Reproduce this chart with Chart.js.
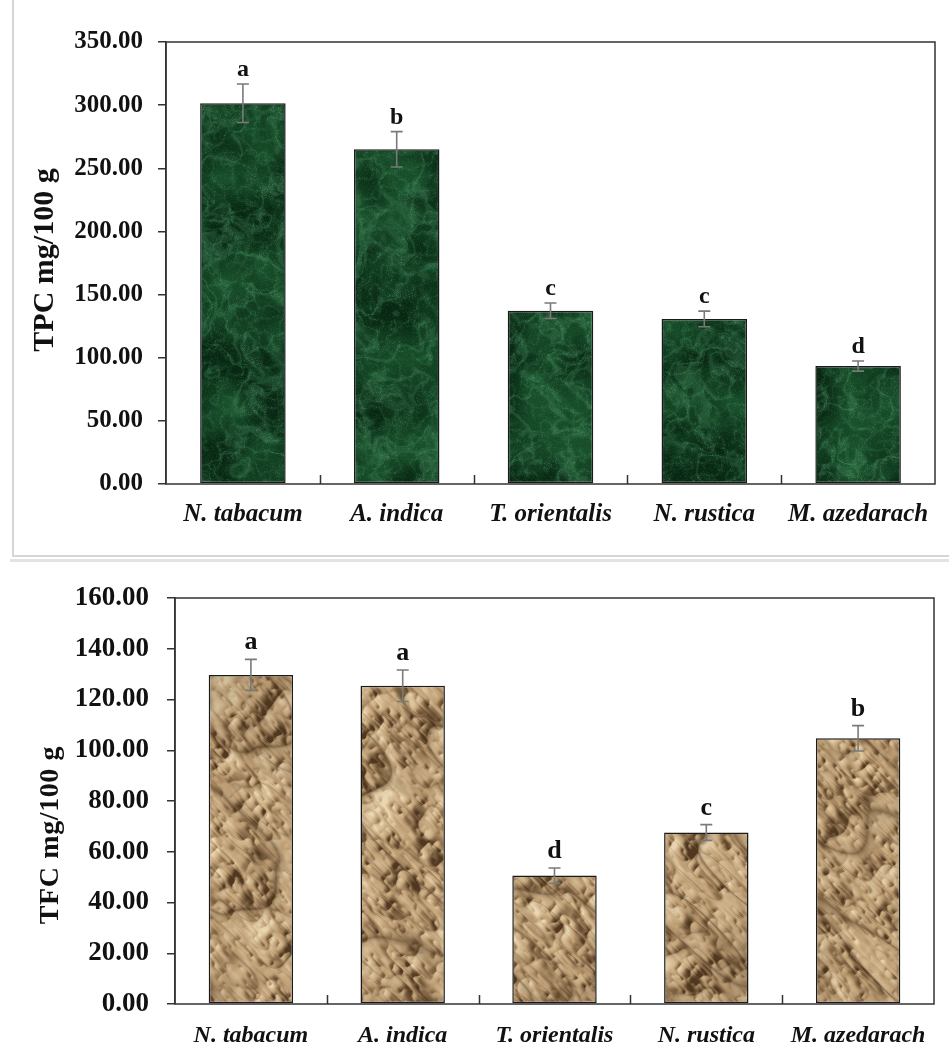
<!DOCTYPE html>
<html>
<head>
<meta charset="utf-8">
<script src="https://cdn.jsdelivr.net/npm/chart.js@4.4.1/dist/chart.umd.min.js"></script>
<style>
  html, body { margin: 0; padding: 0; background: #fff; }
  #wrap { position: relative; width: 949px; height: 1062px; overflow: hidden; background: #fff; }
  .rule { position: absolute; }
  canvas { position: absolute; left: 0; }
  #tpc { top: 0; }
  #tfc { top: 560px; }
</style>
</head>
<body>
<div id="wrap">
  <div class="rule" style="left:12px; top:-4px; width:960px; height:557px; border:2px solid #d6d6d6;"></div>
  <div class="rule" style="left:10px; top:559px; width:960px; height:3px; background:#e3e3e3;"></div>
  <canvas id="tpc" width="949" height="560"></canvas>
  <canvas id="tfc" width="949" height="502"></canvas>
</div>
<script>
// ---- data ----
const categories = ['N. tabacum', 'A. indica', 'T. orientalis', 'N. rustica', 'M. azedarach'];

const tpcMeans   = [301.5, 265.0, 137.2, 130.7, 93.4];
const tpcErrors  = [15.2, 14.0, 6.1, 6.2, 4.0];
const tpcLetters = ['a', 'b', 'c', 'c', 'd'];
const tpcTicks   = [0, 50, 100, 150, 200, 250, 300, 350];

const tfcMeans   = [129.7, 125.4, 50.6, 67.6, 104.7];
const tfcErrors  = [6.1, 6.2, 3.0, 3.1, 5.0];
const tfcLetters = ['a', 'a', 'd', 'c', 'b'];
const tfcTicks   = [0, 20, 40, 60, 80, 100, 120, 140, 160];

const SERIF = "'Liberation Serif', 'Times New Roman', serif";

// ---- procedural bar textures ----
function seeded(seed) {
  return function () {
    seed |= 0; seed = seed + 0x6D2B79F5 | 0;
    let t = Math.imul(seed ^ seed >>> 15, 1 | seed);
    t = t + Math.imul(t ^ t >>> 7, 61 | t) ^ t;
    return ((t ^ t >>> 14) >>> 0) / 4294967296;
  };
}
function lattice(rand, period) {
  const g = new Float32Array(period * period);
  for (let i = 0; i < g.length; i++) g[i] = rand();
  return function (x, y) {
    const xi = Math.floor(x), yi = Math.floor(y);
    const xf = x - xi, yf = y - yi;
    const u = xf * xf * (3 - 2 * xf), v = yf * yf * (3 - 2 * yf);
    const x0 = ((xi % period) + period) % period, x1 = (x0 + 1) % period;
    const y0 = ((yi % period) + period) % period, y1 = (y0 + 1) % period;
    const a = g[y0 * period + x0], b = g[y0 * period + x1];
    const c = g[y1 * period + x0], d = g[y1 * period + x1];
    return a + (b - a) * u + (c - a) * v + (a - b - c + d) * u * v;
  };
}
function fbm(noise, x, y, oct) {
  let s = 0, amp = 0.5, f = 1, norm = 0;
  for (let o = 0; o < oct; o++) {
    s += amp * noise(x * f + o * 17.3, y * f + o * 9.1);
    norm += amp; amp *= 0.5; f *= 2;
  }
  return s / norm;
}
const mix = (a, b, t) => [a[0] + (b[0] - a[0]) * t, a[1] + (b[1] - a[1]) * t, a[2] + (b[2] - a[2]) * t];
const clamp01 = v => v < 0 ? 0 : v > 1 ? 1 : v;

// dark green marble with a soft, light web of veins
function marbleTexture(w, h) {
  const c = document.createElement('canvas'); c.width = w; c.height = h;
  const g = c.getContext('2d');
  const img = g.createImageData(w, h), d = img.data;
  const r = seeded(11);
  const n1 = lattice(r, 97), n2 = lattice(r, 97), n3 = lattice(r, 97), n4 = lattice(r, 97);
  const dark = [8, 40, 19], mid = [24, 78, 42], light = [92, 170, 120];
  for (let y = 0; y < h; y++) {
    for (let x = 0; x < w; x++) {
      const f = fbm(n1, x / 45, y / 45, 4);
      const warp = fbm(n2, x / 34, y / 34, 3);
      const v1 = fbm(n3, x / 30 + warp * 2.2, y / 30 + warp * 2.2, 4);
      const vein = Math.exp(-Math.pow((v1 - 0.5) * 18, 2));
      const v2 = fbm(n4, x / 11 + f * 2, y / 11 + warp, 2);
      const fine = Math.exp(-Math.pow((v2 - 0.5) * 11, 2));
      const grain = r();
      let col = mix(dark, mid, clamp01((f - 0.3) * 2.2));
      const lv = clamp01(vein * 0.32 + fine * 0.22 * (0.4 + grain) + (grain > 0.85 ? 0.16 : 0));
      col = mix(col, light, lv * 0.7);
      const i = (y * w + x) * 4;
      d[i] = col[0]; d[i + 1] = col[1]; d[i + 2] = col[2]; d[i + 3] = 255;
    }
  }
  g.putImageData(img, 0, 0);
  return c;
}

// crumpled kraft paper: faceted height field with sharp diagonal creases, lit from the upper left
function paperTexture(w, h) {
  const c = document.createElement('canvas'); c.width = w; c.height = h;
  const g = c.getContext('2d');
  const img = g.createImageData(w, h), d = img.data;
  const r = seeded(23);
  const n1 = lattice(r, 101), n2 = lattice(r, 101), n3 = lattice(r, 101), n4 = lattice(r, 101);
  const H = new Float32Array(w * h);
  const C = new Float32Array(w * h);
  const ca = Math.cos(-0.75), sa = Math.sin(-0.75);
  for (let y = 0; y < h; y++) {
    for (let x = 0; x < w; x++) {
      const u = x * ca - y * sa, v = x * sa + y * ca;
      let s = 0, crease = 0, amp = 1, f = 1;
      for (let o = 0; o < 4; o++) {
        const nv = (o % 2 ? n2 : n1)(u * f / 95 + o * 13.1, v * f / 34 + o * 7.7);
        const rd = 1 - Math.abs(2 * nv - 1);
        s += amp * rd;
        crease = Math.max(crease, amp * Math.pow(rd, 14));
        amp *= 0.55; f *= 2.05;
      }
      s += 0.5 * fbm(n3, x / 55, y / 55, 3);
      H[y * w + x] = s;
      C[y * w + x] = crease;
    }
  }
  const base = [192, 160, 118], darkC = [80, 56, 32], lightC = [234, 214, 176];
  for (let y = 0; y < h; y++) {
    for (let x = 0; x < w; x++) {
      const xa = x > 0 ? x - 1 : x, xb = x < w - 1 ? x + 1 : x;
      const ya = y > 0 ? y - 1 : y, yb = y < h - 1 ? y + 1 : y;
      const gx = H[y * w + xb] - H[y * w + xa];
      const gy = H[yb * w + x] - H[ya * w + x];
      const sh = -(gx * 0.8 + gy * 0.6) * 11;
      let col = sh >= 0 ? mix(base, lightC, clamp01(sh * 0.9)) : mix(base, darkC, clamp01(-sh));
      col = mix(col, darkC, clamp01(C[y * w + x] * 0.55));
      const tone = fbm(n4, x / 80, y / 80, 2);
      col = mix(col, darkC, clamp01((0.45 - tone) * 0.6));
      const i = (y * w + x) * 4;
      d[i] = col[0]; d[i + 1] = col[1]; d[i + 2] = col[2]; d[i + 3] = 255;
    }
  }
  g.putImageData(img, 0, 0);
  return c;
}

// ---- frame, separators, error bars, significance letters and axis title ----
const decorations = {
  id: 'decorations',
  afterDatasetsDraw(chart, args, o) {
    const { ctx, chartArea: a, scales: { x, y } } = chart;
    const values = chart.data.datasets[0].data;
    ctx.save();
    ctx.strokeStyle = '#333';
    ctx.lineWidth = 1.5;
    ctx.strokeRect(a.left, a.top, a.right - a.left, a.bottom - a.top);
    ctx.beginPath();
    for (let i = 1; i < values.length; i++) {
      const px = Math.round((x.getPixelForValue(i - 1) + x.getPixelForValue(i)) / 2) + 0.5;
      ctx.moveTo(px, a.bottom);
      ctx.lineTo(px, a.bottom - 9);
    }
    ctx.stroke();

    ctx.strokeStyle = '#7a7a7a';
    ctx.lineWidth = 1.6;
    ctx.fillStyle = '#111';
    ctx.font = o.letterFont;
    ctx.textAlign = 'center';
    ctx.textBaseline = 'alphabetic';
    values.forEach((v, i) => {
      const cx = x.getPixelForValue(i);
      const top = y.getPixelForValue(v + o.errors[i]);
      const bot = y.getPixelForValue(v - o.errors[i]);
      ctx.beginPath();
      ctx.moveTo(cx, top); ctx.lineTo(cx, bot);
      ctx.moveTo(cx - 6, top); ctx.lineTo(cx + 6, top);
      ctx.moveTo(cx - 6, bot); ctx.lineTo(cx + 6, bot);
      ctx.stroke();
      ctx.fillText(o.letters[i], cx, top - o.letterGap);
    });

    // rotated y-axis title
    ctx.translate(o.titleX, (a.top + a.bottom) / 2 + o.titleShift);
    ctx.rotate(-Math.PI / 2);
    ctx.font = o.titleFont;
    if ('letterSpacing' in ctx) ctx.letterSpacing = o.titleSpacing + 'px';
    ctx.textBaseline = 'middle';
    ctx.fillText(o.title, 0, 0);
    ctx.restore();
  }
};

function buildChart(canvasId, cfg) {
  const canvas = document.getElementById(canvasId);
  const texture = cfg.texture(canvas.width, canvas.height);
  const pattern = canvas.getContext('2d').createPattern(texture, 'no-repeat');
  return new Chart(canvas, {
    type: 'bar',
    data: {
      labels: categories,
      datasets: [{
        data: cfg.values,
        backgroundColor: pattern,
        borderColor: '#1a1a1a',
        borderWidth: 1.5,
        borderSkipped: false,
        categoryPercentage: 1,
        barPercentage: 0.556
      }]
    },
    options: {
      responsive: false,
      animation: false,
      devicePixelRatio: 1,
      layout: { padding: cfg.padding },
      plugins: {
        legend: { display: false },
        tooltip: { enabled: false },
        decorations: {
          errors: cfg.errors, letters: cfg.letters, letterFont: cfg.letterFont, letterGap: cfg.letterGap,
          title: cfg.title, titleFont: cfg.titleFont, titleX: cfg.titleX, titleShift: cfg.titleShift,
          titleSpacing: cfg.titleSpacing
        }
      },
      scales: {
        x: {
          grid: { display: false },
          border: { display: false },
          ticks: {
            color: '#111',
            font: { family: SERIF, size: cfg.xFont, style: 'italic', weight: 'bold' },
            padding: cfg.xPad,
            maxRotation: 0,
            autoSkip: false
          },
          afterFit: s => { s.height = cfg.xHeight; }
        },
        y: {
          min: cfg.ticks[0],
          max: cfg.ticks[cfg.ticks.length - 1],
          afterBuildTicks: s => { s.ticks = cfg.ticks.map(v => ({ value: v })); },
          grid: { drawOnChartArea: false, drawTicks: true, tickLength: 8, color: '#333', lineWidth: 1.5 },
          border: { display: true, color: '#333', width: 1.5 },
          ticks: {
            color: '#111',
            font: { family: SERIF, size: cfg.yFont, weight: 'bold' },
            padding: cfg.yPad,
            callback: v => Number(v).toFixed(2)
          },
          afterFit: s => { s.width = cfg.yWidth; }
        }
      }
    },
    plugins: [decorations]
  });
}

buildChart('tpc', {
  values: tpcMeans, errors: tpcErrors, letters: tpcLetters, ticks: tpcTicks,
  title: 'TPC mg/100 g', titleFont: 'bold 30px ' + SERIF, titleX: 45, titleShift: -3, titleSpacing: 0,
  texture: marbleTexture,
  padding: { left: 0, top: 42, right: 14, bottom: 0 },
  yWidth: 166, xHeight: 76,
  yFont: 25, yPad: 15, xFont: 25, xPad: 8,
  letterFont: 'bold 24px ' + SERIF, letterGap: 8
});

buildChart('tfc', {
  values: tfcMeans, errors: tfcErrors, letters: tfcLetters, ticks: tfcTicks,
  title: 'TFC mg/100 g', titleFont: 'bold 28px ' + SERIF, titleX: 51, titleShift: 34, titleSpacing: 0.6,
  texture: paperTexture,
  padding: { left: 0, top: 38, right: 15, bottom: 0 },
  yWidth: 175, xHeight: 58,
  yFont: 27, yPad: 18, xFont: 24, xPad: 9,
  letterFont: 'bold 26px ' + SERIF, letterGap: 10
});
</script>
</body>
</html>
